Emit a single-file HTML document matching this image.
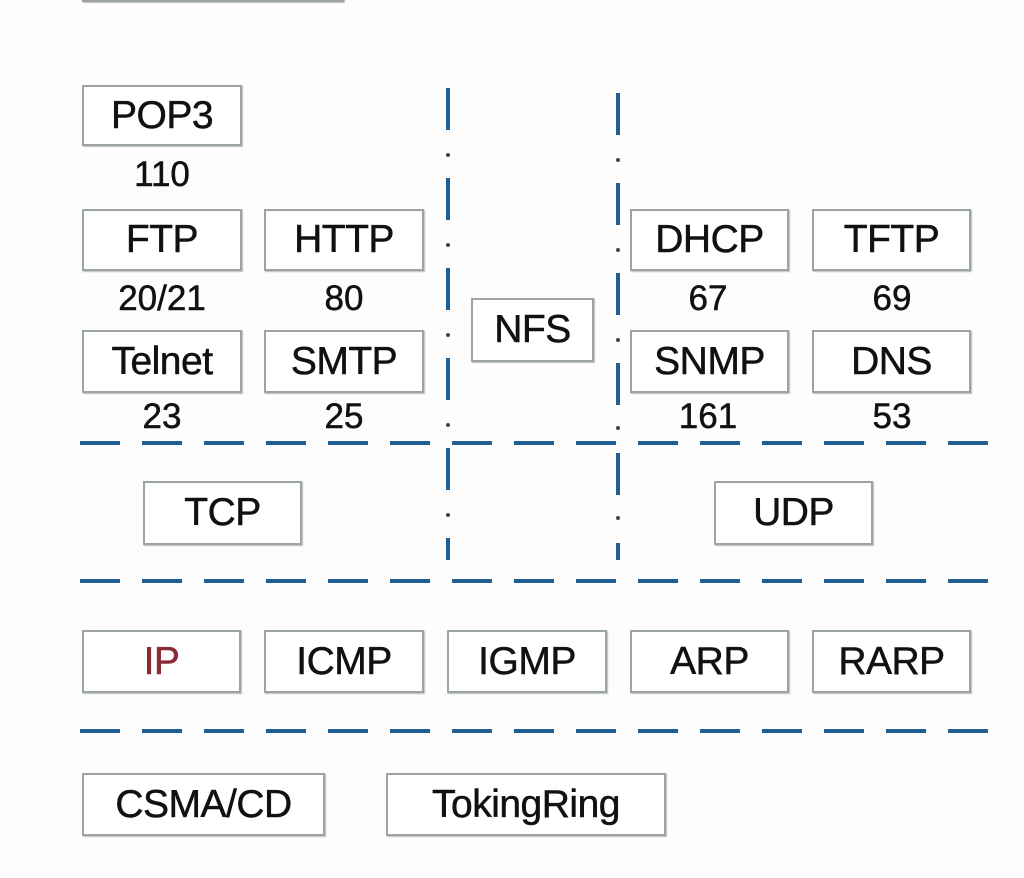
<!DOCTYPE html>
<html><head><meta charset="utf-8"><style>
body{margin:0;width:1024px;height:878px;background:#fdfdfd;position:relative;overflow:hidden;font-family:"Liberation Sans","Noto Sans CJK SC",sans-serif;}
.b{position:absolute;box-sizing:border-box;border:2px solid #9aa5a0;background:#fff;display:flex;align-items:center;justify-content:center;font-size:39px;color:#111;box-shadow:1px 1px 1px #bbb;-webkit-text-stroke:0.5px #111;letter-spacing:-0.5px;}
.n{position:absolute;font-size:35px;color:#111;text-align:center;width:160px;line-height:36px;-webkit-text-stroke:0.5px #111;}
svg{position:absolute;left:0;top:0}
</style></head><body>
<svg width="1024" height="878">
<g stroke="#1f5f94" stroke-width="4" stroke-dasharray="40 22" fill="none">
<line x1="80" y1="443" x2="990" y2="443"/>
<line x1="80" y1="581" x2="990" y2="581"/>
<line x1="80" y1="731" x2="990" y2="731"/>
</g>
<g stroke="#1f5f94" stroke-width="4" stroke-dasharray="42 48" fill="none">
<line x1="448" y1="88" x2="448" y2="560"/>
<line x1="618" y1="93" x2="618" y2="560"/>
</g>
<g fill="#444">
<circle cx="448" cy="155" r="2"/><circle cx="448" cy="245" r="2"/><circle cx="448" cy="335" r="2"/><circle cx="448" cy="425" r="2"/><circle cx="448" cy="515" r="2"/>
<circle cx="618" cy="160" r="2"/><circle cx="618" cy="250" r="2"/><circle cx="618" cy="340" r="2"/><circle cx="618" cy="428" r="2"/><circle cx="618" cy="518" r="2"/>
</g>
</svg>
<div class="b" style="left:82px;top:-60px;width:262px;height:62px"></div>
<div class="b" style="left:82px;top:85px;width:160px;height:61px">POP3</div>
<div class="n" style="left:82px;top:157px">110</div>
<div class="b" style="left:82px;top:209px;width:160px;height:62px">FTP</div>
<div class="b" style="left:264px;top:209px;width:160px;height:62px">HTTP</div>
<div class="n" style="left:82px;top:281px">20/21</div>
<div class="n" style="left:264px;top:281px">80</div>
<div class="b" style="left:82px;top:330px;width:160px;height:63px">Telnet</div>
<div class="b" style="left:264px;top:330px;width:160px;height:63px">SMTP</div>
<div class="n" style="left:82px;top:399px">23</div>
<div class="n" style="left:264px;top:399px">25</div>
<div class="b" style="left:471px;top:298px;width:123px;height:64px">NFS</div>
<div class="b" style="left:630px;top:209px;width:159px;height:62px">DHCP</div>
<div class="b" style="left:812px;top:209px;width:159px;height:62px">TFTP</div>
<div class="n" style="left:628px;top:281px">67</div>
<div class="n" style="left:812px;top:281px">69</div>
<div class="b" style="left:630px;top:330px;width:159px;height:63px">SNMP</div>
<div class="b" style="left:812px;top:330px;width:159px;height:63px">DNS</div>
<div class="n" style="left:628px;top:399px">161</div>
<div class="n" style="left:812px;top:399px">53</div>
<div class="b" style="left:143px;top:481px;width:159px;height:64px">TCP</div>
<div class="b" style="left:714px;top:481px;width:159px;height:64px">UDP</div>
<div class="b" style="left:82px;top:630px;width:159px;height:63px;color:#8b2a35;-webkit-text-stroke:0.5px #8b2a35">IP</div>
<div class="b" style="left:264px;top:630px;width:160px;height:63px">ICMP</div>
<div class="b" style="left:447px;top:630px;width:160px;height:63px">IGMP</div>
<div class="b" style="left:630px;top:630px;width:159px;height:63px">ARP</div>
<div class="b" style="left:812px;top:630px;width:159px;height:63px">RARP</div>
<div class="b" style="left:82px;top:773px;width:243px;height:63px">CSMA/CD</div>
<div class="b" style="left:386px;top:773px;width:280px;height:63px">TokingRing</div>
</body></html>
